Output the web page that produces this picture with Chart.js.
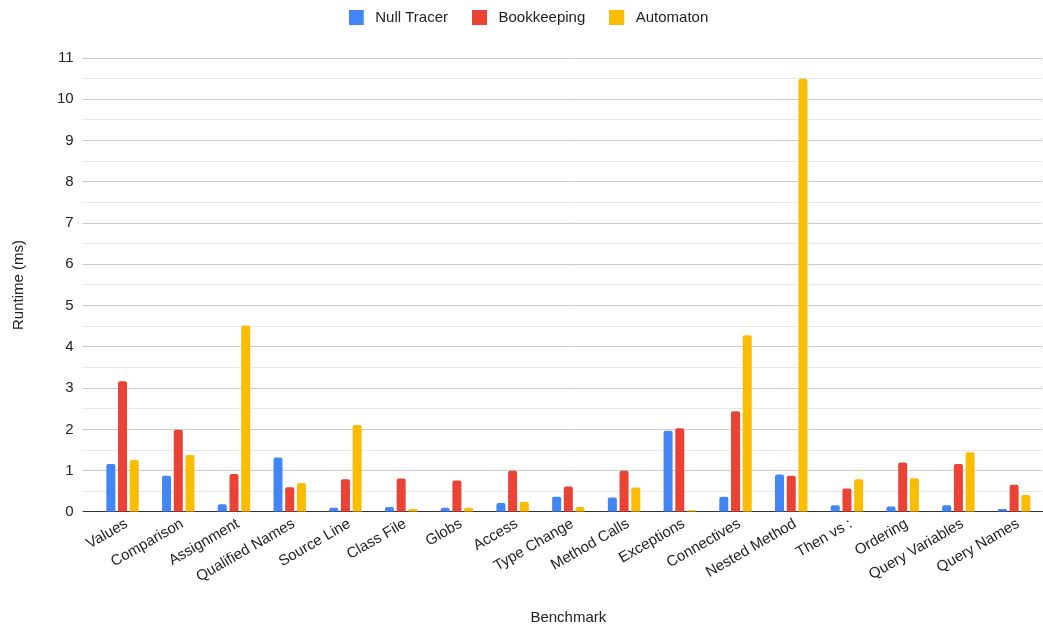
<!DOCTYPE html>
<html>
<head>
<meta charset="utf-8">
<script src="https://cdn.jsdelivr.net/npm/chart.js@4/dist/chart.umd.min.js"></script>
<style>
  html, body { margin: 0; padding: 0; background: #ffffff; }
  #wrap { width: 1043px; height: 632px; position: relative; }
</style>
</head>
<body>
<div id="wrap"><canvas id="chart" width="1043" height="632"></canvas></div>
<script>
// Benchmark names along the x axis
const benchmarks = [
  'Values', 'Comparison', 'Assignment', 'Qualified Names', 'Source Line',
  'Class File', 'Globs', 'Access', 'Type Change', 'Method Calls',
  'Exceptions', 'Connectives', 'Nested Method', 'Then vs :', 'Ordering',
  'Query Variables', 'Query Names'
];

// Runtime per benchmark, in milliseconds
const nullTracer = [1.16, 0.88, 0.19, 1.32, 0.10, 0.12, 0.10, 0.22, 0.37, 0.35, 1.97, 0.37, 0.91, 0.16, 0.13, 0.16, 0.07];
const bookkeeping = [3.17, 1.99, 0.92, 0.60, 0.79, 0.81, 0.76, 1.00, 0.62, 1.00, 2.03, 2.44, 0.88, 0.57, 1.20, 1.16, 0.66];
const automaton = [1.26, 1.38, 4.52, 0.70, 2.11, 0.07, 0.10, 0.25, 0.12, 0.59, 0.04, 4.28, 10.50, 0.79, 0.82, 1.45, 0.41];

// Y axis range; gridlines every half unit, labels on whole units
const yMin = 0;
const yMax = 11;
const yStep = 0.5;

const FONT = "'Liberation Sans', Arial, Helvetica, sans-serif";
const TEXT = '#222222';
const COLORS = ['#4285F4', '#EA4335', '#FBBC04'];

// Legend swatch: a 15px square with some blank space after it
const SWATCH_W = 19;
function swatch(color) {
  const c = document.createElement('canvas');
  c.width = SWATCH_W;
  c.height = 15;
  const g = c.getContext('2d');
  g.fillStyle = color;
  g.fillRect(0, 0, 15, 15);
  return c;
}

// Extra room below the legend, and a small nudge of the legend to the right
const legendTweaks = {
  id: 'legendTweaks',
  beforeInit(chart) {
    const legend = chart.legend;
    const fit = legend.fit;
    legend.fit = function () {
      fit.call(this);
      this.height += 23;
    };
  },
  afterLayout(chart) {
    chart.legend.left += 15;
  }
};

function bar(label, data, color) {
  return {
    label,
    data,
    backgroundColor: color,
    borderColor: color,
    borderWidth: 0,
    borderRadius: 2,
    categoryPercentage: 0.63,
    barPercentage: 0.77
  };
}

new Chart(document.getElementById('chart'), {
  type: 'bar',
  data: {
    labels: benchmarks,
    datasets: [
      bar('Null Tracer', nullTracer, COLORS[0]),
      bar('Bookkeeping', bookkeeping, COLORS[1]),
      bar('Automaton', automaton, COLORS[2])
    ]
  },
  plugins: [legendTweaks],
  options: {
    responsive: false,
    animation: false,
    layout: { padding: { top: -14, left: 0, right: 1, bottom: 2 } },
    plugins: {
      legend: {
        position: 'top',
        labels: {
          font: { family: FONT, size: 15 },
          color: TEXT,
          usePointStyle: true,
          pointStyleWidth: SWATCH_W,
          boxHeight: 15,
          padding: 24,
          generateLabels(chart) {
            const items = Chart.defaults.plugins.legend.labels.generateLabels(chart);
            items.forEach((it, i) => { it.pointStyle = swatch(COLORS[i]); });
            return items;
          }
        }
      },
      tooltip: { enabled: false }
    },
    scales: {
      x: {
        grid: { display: false, drawTicks: false },
        border: { display: true, color: '#333333', width: 1 },
        ticks: {
          autoSkip: false,
          maxRotation: 30,
          minRotation: 30,
          padding: 3,
          labelOffset: 4,
          color: TEXT,
          font: { family: FONT, size: 15 }
        },
        title: {
          display: true,
          text: 'Benchmark',
          color: TEXT,
          font: { family: FONT, size: 15 },
          padding: { top: 20, bottom: 3 }
        }
      },
      y: {
        min: yMin,
        max: yMax,
        border: { display: false },
        grid: {
          tickLength: 12,
          lineWidth: 1,
          color: (ctx) => {
            const v = ctx.tick ? ctx.tick.value : null;
            if (v === 0) return '#333333';
            if (v !== null && Math.abs(v - Math.round(v)) > 1e-6) return '#e8e8e8';
            return '#cccccc';
          }
        },
        ticks: {
          stepSize: yStep,
          maxTicksLimit: 40,
          autoSkip: false,
          padding: 9,
          color: TEXT,
          font: { family: FONT, size: 15 },
          callback: (v) => (Math.abs(v - Math.round(v)) < 1e-6 ? String(Math.round(v)) : '')
        },
        title: {
          display: true,
          text: 'Runtime (ms)',
          color: TEXT,
          font: { family: FONT, size: 15 },
          padding: { top: 10, bottom: 20 }
        }
      }
    }
  }
});
</script>
</body>
</html>
